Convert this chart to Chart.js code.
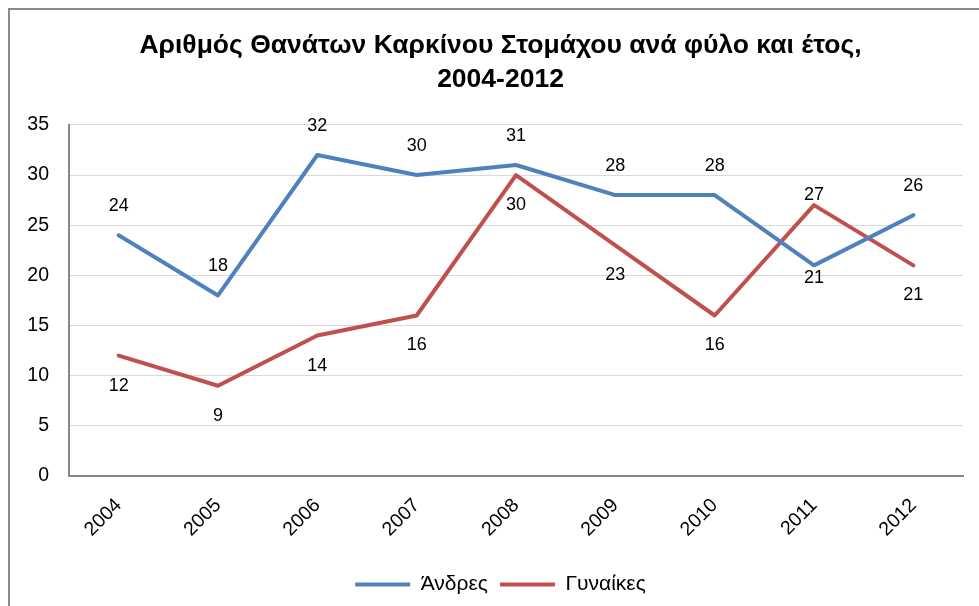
<!DOCTYPE html>
<html>
<head>
<meta charset="utf-8">
<script src="https://cdn.jsdelivr.net/npm/chart.js@4/dist/chart.umd.min.js"></script>
<style>
  html, body { margin: 0; padding: 0; background: #ffffff; }
  #wrap { position: relative; width: 979px; height: 606px; overflow: hidden; }
  #frame { position: absolute; left: 8px; top: 8px; width: 1200px; height: 800px;
           border-left: 2px solid #8a8a8a; border-top: 2px solid #8a8a8a; }
  #c { position: absolute; left: 0; top: 0; }
</style>
</head>
<body>
<div id="wrap">
  <div id="frame"></div>
  <canvas id="c" width="979" height="606"></canvas>
</div>
<script>
// ---- data ----
const years = ['2004','2005','2006','2007','2008','2009','2010','2011','2012'];
const men   = [24, 18, 32, 30, 31, 28, 28, 21, 26];
const women = [12,  9, 14, 16, 30, 23, 16, 27, 21];
const seriesNames = ['Άνδρες', 'Γυναίκες'];
const titleLines = ['Αριθμός Θανάτων Καρκίνου Στομάχου ανά φύλο και έτος,', '2004-2012'];
const yTicks = [0, 5, 10, 15, 20, 25, 30, 35];

// label placement (px offset of label centre from point, negative = above)
const menLabelOffset   = [-29, -29, -29, -29, -29, -29, -29, 13, -29];
const womenLabelOffset = [30, 30, 30, 30, 30, 30, 30, -10, 30];

const FONT = "'Liberation Sans', Arial, sans-serif";

const dataLabels = {
  id: 'dataLabels',
  afterDatasetsDraw(chart) {
    const ctx = chart.ctx;
    const offsets = [menLabelOffset, womenLabelOffset];
    ctx.save();
    ctx.font = '18px ' + FONT;
    ctx.fillStyle = '#000000';
    ctx.textAlign = 'center';
    ctx.textBaseline = 'middle';
    chart.data.datasets.forEach((ds, di) => {
      const meta = chart.getDatasetMeta(di);
      meta.data.forEach((el, i) => {
        ctx.fillText(String(ds.data[i]), el.x, el.y + offsets[di][i]);
      });
    });
    ctx.restore();
  }
};

new Chart(document.getElementById('c'), {
  type: 'line',
  data: {
    labels: years,
    datasets: [
      { label: seriesNames[0], data: men, borderColor: '#4F81BD', backgroundColor: '#4F81BD',
        borderWidth: 4, pointRadius: 0, tension: 0, borderJoinStyle: 'round', borderCapStyle: 'round' },
      { label: seriesNames[1], data: women, borderColor: '#C0504D', backgroundColor: '#C0504D',
        borderWidth: 4, pointRadius: 0, tension: 0, borderJoinStyle: 'round', borderCapStyle: 'round' }
    ]
  },
  options: {
    responsive: false,
    animation: false,
    devicePixelRatio: 1,
    layout: { padding: { left: 0, right: -22, top: 0, bottom: 1 } },
    font: { family: FONT },
    plugins: {
      title: {
        display: true,
        text: titleLines,
        color: '#000000',
        font: { family: FONT, size: 26.5, weight: 'bold', lineHeight: 1.3 },
        padding: { top: 28, bottom: 28 }
      },
      legend: {
        position: 'bottom',
        labels: {
          usePointStyle: true,
          pointStyle: 'line',
          pointStyleWidth: 55,
          color: '#000000',
          font: { family: FONT, size: 21 },
          padding: 12
        }
      },
      tooltip: { enabled: false }
    },
    scales: {
      x: {
        offset: true,
        grid: { display: false, drawTicks: false },
        border: { display: true, color: '#868686', width: 2 },
        ticks: { color: '#000000', font: { family: FONT, size: 19.5 }, minRotation: 45, maxRotation: 45, padding: 18 },
        afterFit(scale) { scale.height = 86; }
      },
      y: {
        min: 0, max: 35,
        afterBuildTicks(scale) { scale.ticks = yTicks.map(v => ({ value: v })); },
        grid: { color: '#d9d9d9', lineWidth: 1, drawTicks: false },
        border: { display: true, color: '#868686', width: 2 },
        ticks: { color: '#000000', font: { family: FONT, size: 19.5 }, padding: 20 },
        afterFit(scale) { scale.width = 69; }
      },
      yRight: {
        position: 'right',
        display: true,
        min: 0, max: 35,
        grid: { display: false, drawTicks: false },
        border: { display: false },
        ticks: { display: false },
        afterFit(scale) { scale.width = 38; }
      }
    }
  },
  plugins: [dataLabels]
});
</script>
</body>
</html>
